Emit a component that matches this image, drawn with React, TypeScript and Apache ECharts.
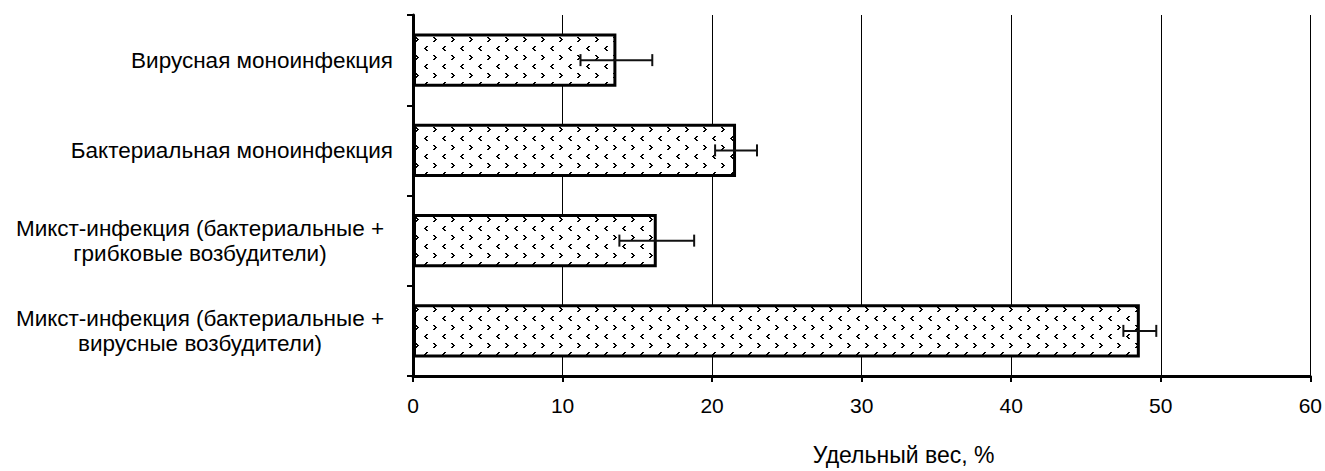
import React, { useEffect, useRef } from "react";
import * as echarts from "echarts";

const categories = [
  "Вирусная моноинфекция",
  "Бактериальная моноинфекция",
  "Микст-инфекция (бактериальные +\nгрибковые возбудители)",
  "Микст-инфекция (бактериальные +\nвирусные возбудители)",
];
const values = [13.6, 21.6, 16.3, 48.6];
const errors = [2.4, 1.4, 2.5, 1.1];
const xTicks = [0, 10, 20, 30, 40, 50, 60];
const axisTitle = "Удельный вес, %";

function makePattern(): HTMLCanvasElement {
  const c = document.createElement("canvas");
  c.width = 18;
  c.height = 18;
  const ctx = c.getContext("2d")!;
  ctx.fillStyle = "#ffffff";
  ctx.fillRect(0, 0, 18, 18);
  ctx.fillStyle = "#000000";
  // ">" mark
  const gt = [[1, 1, 2, 1], [2, 2, 2, 1], [3, 3, 2, 1], [2, 4, 2, 1], [1, 5, 2, 1]];
  gt.forEach(([x, y, w, h]) => ctx.fillRect(x, y, w, h));
  // "<" mark
  const lt = [[12, 10, 2, 1], [11, 11, 2, 1], [10, 12, 2, 1], [11, 13, 2, 1], [12, 14, 2, 1]];
  lt.forEach(([x, y, w, h]) => ctx.fillRect(x, y, w, h));
  return c;
}

export default function App() {
  const ref = useRef<HTMLDivElement>(null);
  useEffect(() => {
    if (!ref.current) return;
    const chart = echarts.init(ref.current, undefined, { renderer: "svg" });
    const pattern = makePattern();
    const font = "'Liberation Sans', Arial, sans-serif";
    const errData = values.map((v, i) => [v - errors[i], v + errors[i], i]);
    chart.setOption({
      animation: false,
      backgroundColor: "#ffffff",
      grid: { left: 413, right: 14, top: 15, bottom: 88, containLabel: false },
      xAxis: {
        type: "value",
        min: xTicks[0],
        max: xTicks[xTicks.length - 1],
        interval: 10,
        axisLine: { show: true, lineStyle: { color: "#000", width: 3 } },
        axisTick: { show: true, length: 6, lineStyle: { color: "#000", width: 2 } },
        axisLabel: { color: "#000", fontSize: 21, fontFamily: font, margin: 19 },
        splitLine: { show: true, lineStyle: { color: "#000", width: 1 } },
        name: axisTitle,
        nameLocation: "middle",
        nameGap: 67,
        nameTextStyle: { color: "#000", fontSize: 23, fontFamily: font, padding: [0, 0, 0, 84] },
      },
      yAxis: {
        type: "category",
        data: categories,
        inverse: true,
        axisLine: { show: true, lineStyle: { color: "#000", width: 3 } },
        axisTick: { show: true, length: 6, lineStyle: { color: "#000", width: 2 } },
        axisLabel: {
          color: "#000",
          fontSize: 22.5,
          fontFamily: font,
          margin: 20,
          lineHeight: 25,
          formatter: (val: string) => {
            if (val.indexOf("\n") < 0) return val;
            return val
              .split("\n")
              .map((l) => "{m|" + l + "}")
              .join("\n");
          },
          rich: {
            m: { width: 386, align: "center", fontSize: 22.5, fontFamily: font, color: "#000", lineHeight: 25 },
          },
        },
        splitLine: { show: false },
      },
      series: [
        {
          type: "bar",
          data: values,
          barCategoryGap: "41%",
          itemStyle: {
            color: { image: pattern, repeat: "repeat" },
            borderColor: "#000",
            borderWidth: 3,
          },
          z: 2,
        },
        {
          type: "custom",
          data: errData,
          encode: { x: [0, 1], y: 2 },
          z: 5,
          renderItem: (params: any, api: any) => {
            const a = api.coord([api.value(0), api.value(2)]);
            const b = api.coord([api.value(1), api.value(2)]);
            const h = 6;
            const style = { stroke: "#111", lineWidth: 2 };
            return {
              type: "group",
              children: [
                { type: "line", shape: { x1: a[0], y1: a[1], x2: b[0], y2: b[1] }, style },
                { type: "line", shape: { x1: a[0], y1: a[1] - h, x2: a[0], y2: a[1] + h }, style },
                { type: "line", shape: { x1: b[0], y1: b[1] - h, x2: b[0], y2: b[1] + h }, style },
              ],
            };
          },
        },
      ],
    });
    return () => chart.dispose();
  }, []);
  return <div ref={ref} style={{ width: 1325, height: 471, position: "absolute", left: 0, top: 0 }} />;
}
